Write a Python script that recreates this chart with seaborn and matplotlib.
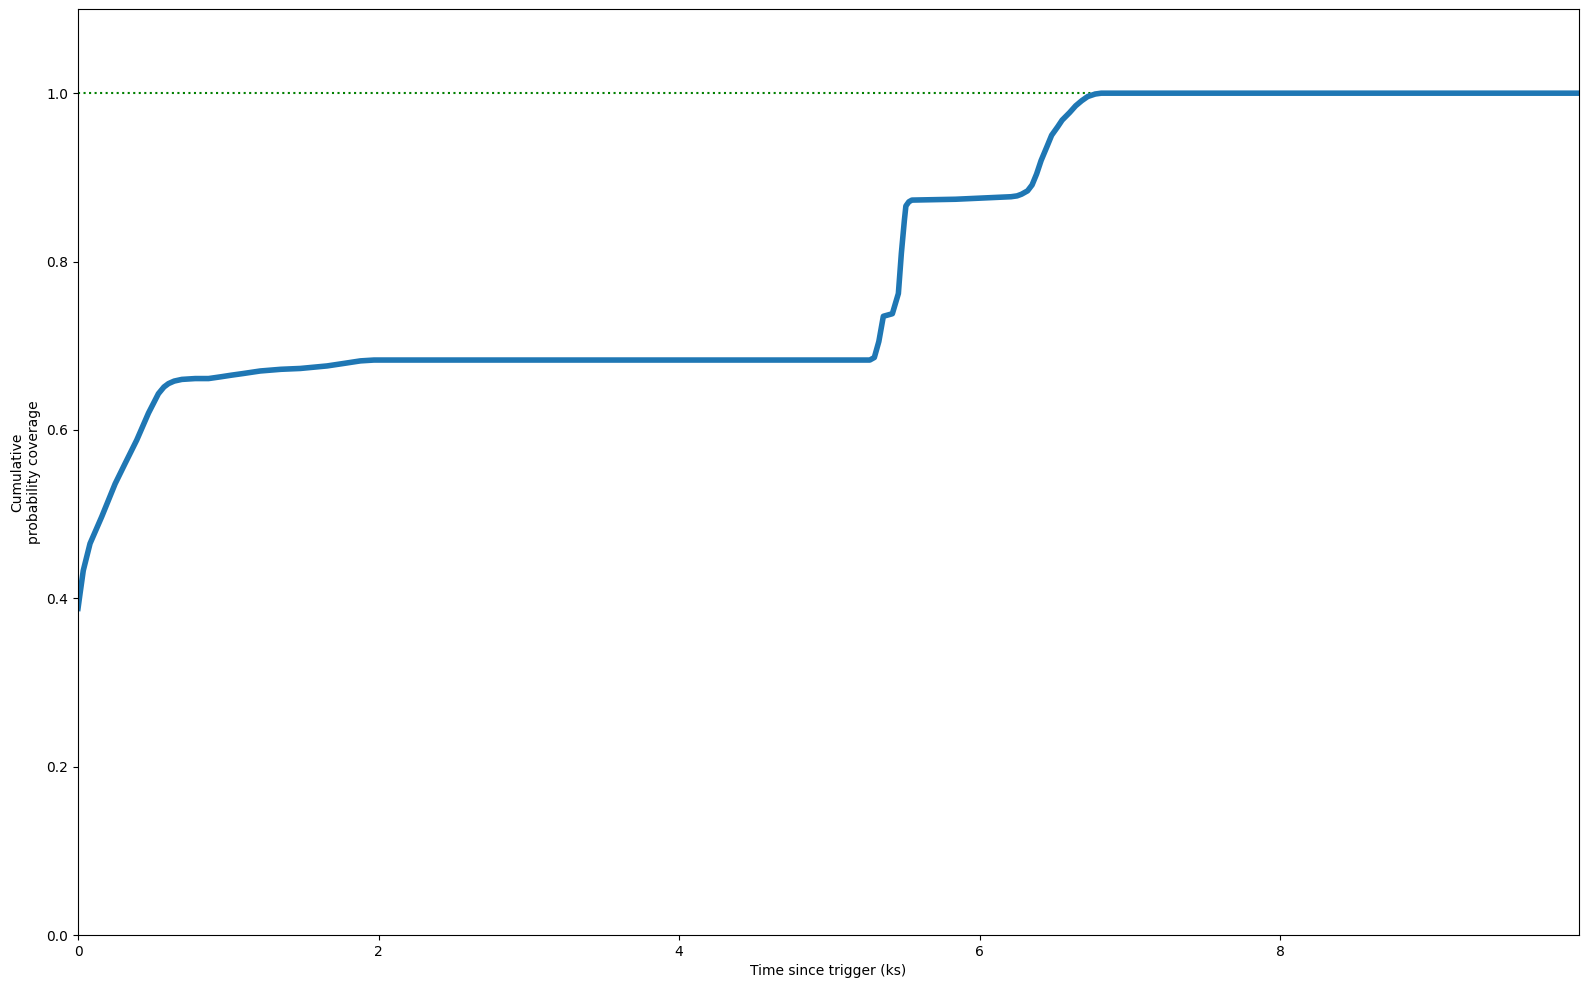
import numpy as np
import pandas as pd
import matplotlib
matplotlib.use("Agg")
import matplotlib.pyplot as plt
import seaborn as sns

# 读图得到的累积概率曲线 (时间单位 ks)
time_ks = [0.0, 0.013, 0.035, 0.08, 0.158, 0.247, 0.313, 0.391, 0.469, 0.535,
           0.572, 0.602, 0.64, 0.691, 0.78, 0.869, 0.947, 1.02, 1.1, 1.213,
           1.35, 1.48, 1.658, 1.77, 1.88, 1.97, 2.058, 3.0, 4.0, 5.0,
           5.27, 5.30, 5.33, 5.36, 5.42, 5.46, 5.48, 5.50, 5.51, 5.53, 5.55,
           5.84, 6.21, 6.25, 6.28, 6.32, 6.35, 6.38, 6.41, 6.45, 6.48, 6.52,
           6.55, 6.60, 6.64, 6.68, 6.72, 6.77, 6.81, 7.0, 8.0, 9.0, 9.99]
coverage = [0.388, 0.405, 0.433, 0.465, 0.497, 0.536, 0.560, 0.588, 0.620,
            0.643, 0.651, 0.655, 0.658, 0.660, 0.661, 0.661, 0.663, 0.665,
            0.667, 0.670, 0.672, 0.673, 0.676, 0.679, 0.682, 0.683, 0.683,
            0.683, 0.683, 0.683, 0.683, 0.686, 0.705, 0.735, 0.738, 0.762,
            0.81, 0.849, 0.866, 0.871, 0.873, 0.874, 0.877, 0.878, 0.880,
            0.884, 0.891, 0.904, 0.920, 0.937, 0.950, 0.960, 0.968, 0.977,
            0.985, 0.991, 0.996, 0.999, 1.0, 1.0, 1.0, 1.0, 1.0]

df = pd.DataFrame({"time": time_ks, "coverage": coverage})

fig, ax = plt.subplots(figsize=(15.89, 9.89), dpi=100)
plt.subplots_adjust(left=0.0491, right=0.9937, top=0.9909, bottom=0.0546)

ax.axhline(1.0, color="green", linestyle=":", linewidth=1.5)
sns.lineplot(data=df, x="time", y="coverage", ax=ax, color="#1f77b4",
             linewidth=4, estimator=None, sort=True)

ax.set_xlim(0, 9.99)
ax.set_ylim(0, 1.1)
ax.set_xlabel("Time since trigger (ks)")
ax.set_ylabel("Cumulative\nprobability coverage")

fig.savefig("out.png", dpi=100)
